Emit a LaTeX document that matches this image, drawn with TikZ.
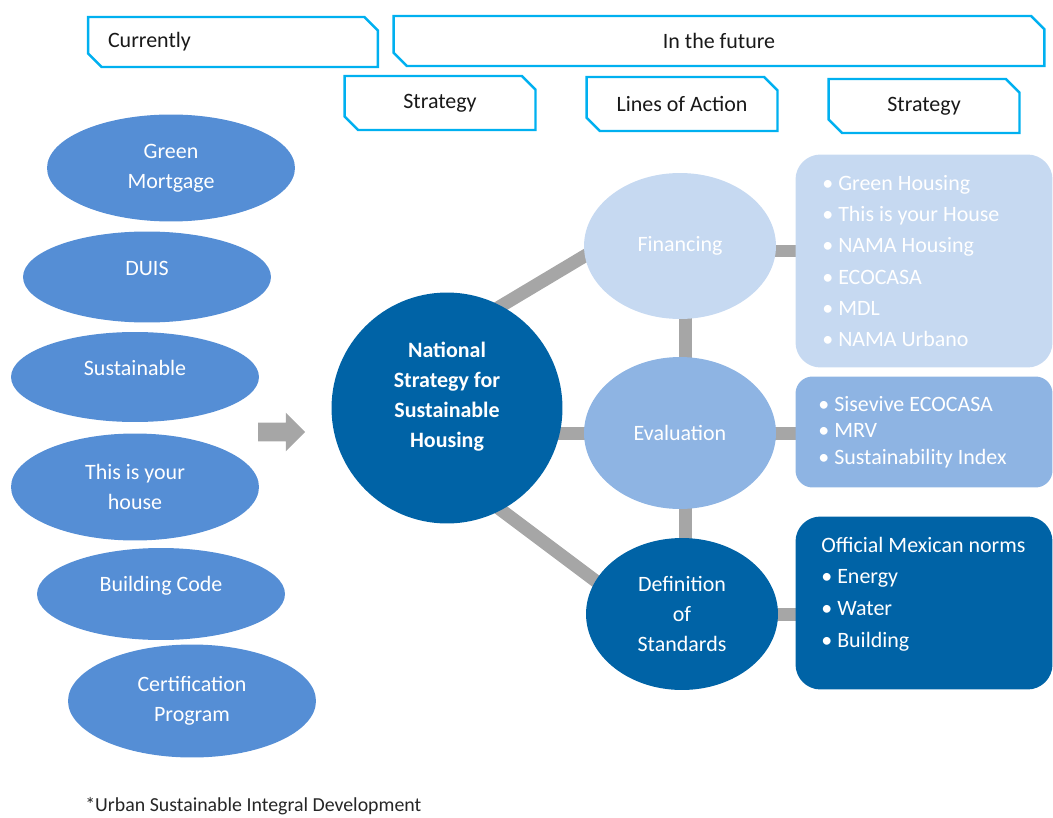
\documentclass[tikz,border=0pt]{standalone}
\usepackage{fontspec}
\setmainfont{Carlito}
\usetikzlibrary{shapes.geometric,shapes.misc,shapes.arrows,backgrounds}

\definecolor{tabline}{RGB}{0,176,240}
\definecolor{curblue}{RGB}{85,142,213}
\definecolor{darkblue}{RGB}{0,99,166}
\definecolor{paleblue}{RGB}{198,217,241}
\definecolor{midblue}{RGB}{142,180,227}
\definecolor{link}{RGB}{166,166,166}

\newcommand{\txt}{\fontsize{12.5}{17}\selectfont}

\tikzset{tab/.style = {chamfered rectangle, chamfered rectangle corners={north east,south west},
                       chamfered rectangle xsep=0.16cm, draw=tabline, line width=1.4pt,
                       inner sep=0pt, text=black!90, font=\txt},
         cur/.style = {ellipse, fill=curblue, minimum width=4.96cm, inner sep=0pt,
                       text=white, align=center, font=\txt},
         act/.style = {ellipse, minimum width=3.84cm, inner sep=0pt, text=white,
                       align=center, font=\txt},
         lst/.style = {rectangle, minimum width=5.14cm, inner sep=0pt},
         itm/.style = {anchor=west, align=left, inner sep=0pt, text=white},
         raised/.style = {yshift=#1, text=white, align=center, font=\txt},
         link/.style = {draw=link, line width=0.26cm}}

\begin{document}
\begin{tikzpicture}[x=0.02cm, y=-0.02cm]
    \useasboundingbox (0,0) rectangle (1053,817);

    % headings
    \node[tab, minimum width=5.8cm, minimum height=1.0cm, text width=5.0cm, align=left] (now) at (233,42) {Currently};
    \node[tab, minimum width=13.02cm, minimum height=1.0cm] (fut) at (719,41) {In the future};
    \node[tab, minimum width=3.82cm, minimum height=1.08cm] (strl) at (440,103) {Strategy};
    \node[tab, minimum width=3.82cm, minimum height=1.08cm] (loa) at (682,104) {Lines of Action};
    \node[tab, minimum width=3.82cm, minimum height=1.08cm] (strr) at (924,106) {Strategy};

    % current programmes
    \node[cur, minimum height=2.14cm] (gm) at (171,168) {Green\\Mortgage};
    \node[cur, minimum height=1.82cm, label={[raised=0.18cm]center:DUIS}] (duis) at (147,277) {};
    \node[cur, minimum height=1.80cm, label={[raised=0.18cm]center:Sustainable}] (sus) at (135,377) {};
    \node[cur, minimum height=2.14cm] (tiyh) at (135,487) {This is your\\house};
    \node[cur, minimum height=1.84cm, label={[raised=0.16cm]center:Building Code}] (bc) at (161,594) {};
    \node[cur, minimum height=2.26cm] (cp) at (192,701) {Certification\\Program};

    \node[single arrow, fill=link, inner xsep=0pt, inner ysep=0.18cm, minimum height=0.94cm,
          single arrow head extend=0.2cm] (arr) at (277,432) {};

    % national strategy and lines of action
    \node[circle, fill=darkblue, minimum size=4.62cm, inner sep=0pt,
          label={[raised=0.23cm, font=\txt\bfseries]center:National\\Strategy for\\Sustainable\\Housing}] (nat) at (447,408) {};
    \node[act, fill=paleblue, minimum height=2.92cm] (fin) at (680,246) {Financing};
    \node[act, fill=midblue, minimum height=3.04cm] (eva) at (680,433) {Evaluation};
    \node[act, fill=darkblue, minimum height=3.04cm] (dfs) at (682,614) {Definition\\of\\Standards};

    % strategy boxes
    \node[lst, fill=paleblue, minimum height=4.26cm, rounded corners=0.5cm] (finbox) at (924,261) {};
    \node[lst, fill=midblue, minimum height=2.22cm, rounded corners=0.34cm] (evabox) at (924,432) {};
    \node[lst, fill=darkblue, minimum height=3.46cm, rounded corners=0.5cm] (dfsbox) at (924,603) {};

    \node[itm, font=\fontsize{12.5}{17.8}\selectfont] (finlst) at (822,261)
        {\textbullet\ Green Housing\\ \textbullet\ This is your House\\ \textbullet\ NAMA Housing\\
         \textbullet\ ECOCASA\\ \textbullet\ MDL\\ \textbullet\ NAMA Urbano};
    \node[itm, font=\fontsize{12.5}{15}\selectfont] (evalst) at (818,432)
        {\textbullet\ Sisevive ECOCASA\\ \textbullet\ MRV\\ \textbullet\ Sustainability Index};
    \node[itm, font=\fontsize{12.5}{18}\selectfont] (dfslst) at (821,594)
        {Official Mexican norms\\ \textbullet\ Energy\\ \textbullet\ Water\\ \textbullet\ Building};

    \node[anchor=west, inner sep=0pt, text=black!85, font=\fontsize{11.3}{13}\selectfont] (note) at (85,806)
        {*Urban Sustainable Integral Development};

    % grey links behind the shapes
    \begin{scope}[on background layer]
        \draw[link, shorten <=-4pt, shorten >=-4pt] (nat.62) -- (fin.186);
        \draw[link] (eva.center) -- (eva.center -| nat.center);
        \draw[link, shorten <=-4pt, shorten >=-4pt] (nat.298) -- (dfs.159);
        \draw[link] ([xshift=0.1cm]fin.center) -- ([xshift=0.1cm]eva.center);
        \draw[link] ([xshift=0.1cm]eva.center) -- ([xshift=0.1cm]eva.center |- dfs.center);
        \draw[link] ([yshift=-0.1cm]fin.center) -- ([yshift=-0.1cm]fin.center -| finbox.center);
        \draw[link] (eva.center) -- (eva.center -| evabox.center);
        \draw[link] (dfs.center) -- (dfs.center -| dfsbox.center);
    \end{scope}
\end{tikzpicture}
\end{document}
